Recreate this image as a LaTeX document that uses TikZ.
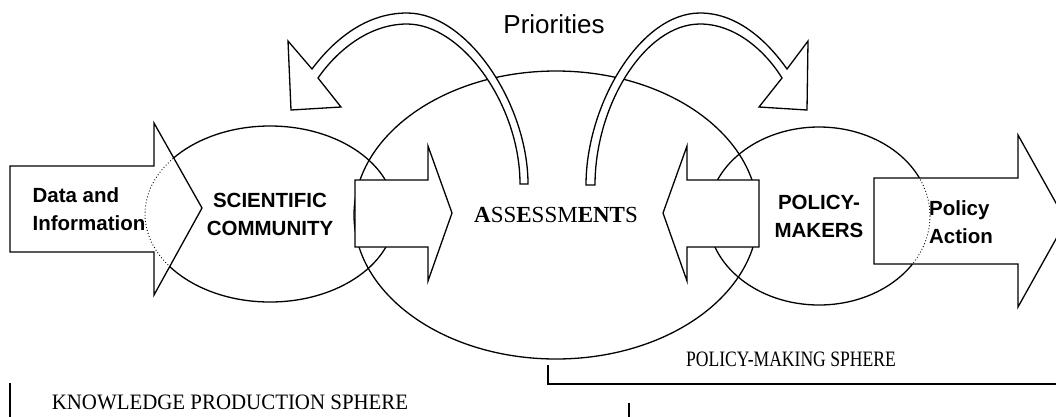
\documentclass[tikz,border=0pt]{standalone}
\usepackage{fontspec}
\setmainfont{Liberation Serif}
\newfontfamily\arialfont{Liberation Sans}
\usetikzlibrary{shapes.geometric}

\tikzset{
    sphere/.style={draw, ellipse, inner sep=0pt, outer sep=0pt, align=center,
                   font=\arialfont\bfseries\fontsize{20.5}{28}\selectfont},
    blockarrow/.style={draw, fill=white},
    hidden/.style={line width=0.9pt, dash pattern=on 0.9pt off 2.2pt},
    actor/.style={font=\arialfont\bfseries\fontsize{20.5}{28}\selectfont, align=left},
    spheretext/.style={font=\fontsize{22}{24}\selectfont, inner sep=0pt}
}

\begin{document}
\begin{tikzpicture}[x=1pt, y=-1pt, line width=1.3pt, line join=miter]
    \useasboundingbox (0,0) rectangle (1056,416);
    \clip (0,0) rectangle (1056,416);

    % the three spheres
    \node[sphere, minimum width=250pt, minimum height=176pt] (sci) at (270,214) {SCIENTIFIC\\COMMUNITY};
    \node[sphere, minimum width=404pt, minimum height=288pt,
          font=\fontsize{23}{26}\selectfont] (asm) at (556,215) {\textbf{A}SS\textbf{E}SSM\textbf{ENT}S};
    \node[sphere, minimum width=222pt, minimum height=178pt] (pm) at (819,216) {POLICY-\\MAKERS};

    % priorities loops
    \draw[blockarrow] (520,184) -- (528,184)
        .. controls (528,105) and (468,13) .. (407,13)
        .. controls (362,13) and (330,45) .. (312,69)
        -- (288,41) -- (291,110) -- (341,107) -- (318,78)
        .. controls (336,52) and (368,24) .. (407,24)
        .. controls (462,24) and (520,105) .. (520,184) -- cycle;
    \draw[blockarrow] (595,185) -- (586,185)
        .. controls (586,105) and (640,13) .. (700,13)
        .. controls (740,13) and (770,45) .. (787,69)
        -- (808,41) -- (807,110) -- (759,107) -- (782,78)
        .. controls (766,52) and (736,24) .. (700,24)
        .. controls (645,24) and (595,105) .. (595,185) -- cycle;
    \node[font=\arialfont\fontsize{26}{30}\selectfont] (prio) at (554,24) {Priorities};

    % block arrows
    \draw[blockarrow, path picture={\draw[hidden] (sci.center) ellipse [x radius=125pt, y radius=88pt];}]
        (10,166) -- (154,166) -- (154,123) -- (202,208) -- (154,295) -- (154,252) -- (10,252) -- cycle;
    \draw[blockarrow] (355,180) -- (428,180) -- (428,146) -- (452,213) -- (428,281) -- (428,247) -- (355,247) -- cycle;
    \draw[blockarrow] (759,180) -- (687,180) -- (687,146) -- (663,213) -- (687,281) -- (687,247) -- (759,247) -- cycle;
    \draw[blockarrow, path picture={\draw[hidden] (pm.center) ellipse [x radius=111pt, y radius=89pt];}]
        (874,178) -- (1018,178) -- (1018,135) -- (1066,221) -- (1018,307) -- (1018,264) -- (874,264) -- cycle;
    \node[actor] (data) at (89,209) {Data and\\Information};
    \node[actor] (action) at (961,222) {Policy\\Action};

    % sphere brackets
    \coordinate (pmtop) at (548,365);
    \coordinate (pmend) at (1060,384);
    \coordinate (kpleft) at (10,383);
    \coordinate (kpmid) at (629,403);
    \draw[line width=1.1pt] (pmtop) |- (pmend);
    \draw[line width=1.1pt] (kpleft) -- ++(0,40);
    \draw[line width=1.1pt] (kpmid) -- ++(0,20);
    \node[spheretext] (pms) at (791,359) {\scalebox{0.8}[1]{POLICY-MAKING SPHERE}};
    \node[spheretext] (kps) at (230,402) {\scalebox{0.95}[1]{KNOWLEDGE PRODUCTION SPHERE}};
\end{tikzpicture}
\end{document}
